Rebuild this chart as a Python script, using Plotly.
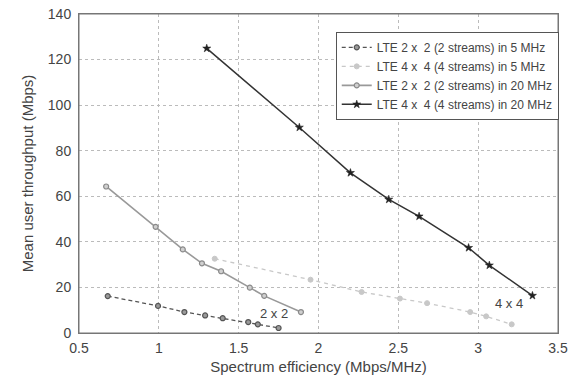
import plotly.graph_objects as go

# Data
x_2x2_5 = [0.68, 0.995, 1.16, 1.29, 1.40, 1.56, 1.62, 1.75]
y_2x2_5 = [16.2, 11.9, 9.2, 7.7, 6.5, 4.8, 3.8, 2.2]

x_4x4_5 = [1.35, 1.95, 2.27, 2.51, 2.68, 2.95, 3.05, 3.21]
y_4x4_5 = [32.6, 23.4, 18.0, 15.1, 13.1, 9.2, 7.3, 3.8]

x_2x2_20 = [0.67, 0.98, 1.15, 1.27, 1.39, 1.57, 1.66, 1.89]
y_2x2_20 = [64.3, 46.6, 36.7, 30.6, 27.1, 19.9, 16.3, 9.2]

x_4x4_20 = [1.30, 1.88, 2.20, 2.44, 2.63, 2.94, 3.07, 3.34]
y_4x4_20 = [124.9, 90.2, 70.3, 58.6, 51.2, 37.4, 29.7, 16.4]

names = [
    "LTE 2 x  2 (2 streams) in 5 MHz",
    "LTE 4 x  4 (4 streams) in 5 MHz",
    "LTE 2 x  2 (2 streams) in 20 MHz",
    "LTE 4 x  4 (4 streams) in 20 MHz",
]

annot_text = ["2 x 2", "4 x 4"]
annot_x = [1.72, 3.19]
annot_y = [8.4, 12.8]

x_ticks = [0.5, 1, 1.5, 2, 2.5, 3, 3.5]
x_ticklabels = ["0.5", "1", "1.5", "2", "2.5", "3", "3.5"]
y_ticks = [0, 20, 40, 60, 80, 100, 120, 140]

FONT = "Liberation Sans, Arial, Helvetica, sans-serif"

fig = go.Figure()
fig.add_trace(go.Scatter(
    x=x_2x2_5, y=y_2x2_5, name=names[0], mode="lines+markers",
    line=dict(color="#555555", width=1.3, dash="4px,3px"),
    marker=dict(symbol="circle", size=5, color="#9a9a9a",
                line=dict(color="#555555", width=1.2)),
))
fig.add_trace(go.Scatter(
    x=x_4x4_5, y=y_4x4_5, name=names[1], mode="lines+markers",
    line=dict(color="#c8c8c8", width=1.3, dash="4px,4px"),
    marker=dict(symbol="circle", size=5, color="#c8c8c8",
                line=dict(color="#c8c8c8", width=1)),
))
fig.add_trace(go.Scatter(
    x=x_2x2_20, y=y_2x2_20, name=names[2], mode="lines+markers",
    line=dict(color="#999999", width=1.6),
    marker=dict(symbol="circle", size=5, color="#d0d0d0",
                line=dict(color="#8a8a8a", width=1.2)),
))
fig.add_trace(go.Scatter(
    x=x_4x4_20, y=y_4x4_20, name=names[3], mode="lines+markers",
    line=dict(color="#333333", width=1.5),
    marker=dict(symbol="star", size=6, color="#222222",
                line=dict(color="#222222", width=0.6)),
))

for t, ax, ay in zip(annot_text, annot_x, annot_y):
    fig.add_annotation(x=ax, y=ay, text=t, showarrow=False,
                       font=dict(family=FONT, size=13, color="#444444"))

# Frame around the plot area
fig.add_shape(type="rect", xref="paper", yref="paper", x0=0, y0=0, x1=1, y1=1,
              line=dict(color="#777777", width=1), fillcolor="rgba(0,0,0,0)",
              layer="above")

fig.update_layout(
    width=575, height=384,
    margin=dict(l=79, r=17, t=14, b=51),
    paper_bgcolor="white", plot_bgcolor="white",
    font=dict(family=FONT, size=12, color="#444444"),
    showlegend=True,
    legend=dict(
        x=0.536, y=0.944, xanchor="left", yanchor="top",
        bgcolor="white", bordercolor="#555555", borderwidth=1,
        font=dict(family=FONT, size=12, color="#444444"),
        itemwidth=30, tracegroupgap=0,
    ),
)
fig.update_xaxes(
    range=[0.5, 3.5], tickvals=x_ticks, ticktext=x_ticklabels,
    automargin=False, ticklabeloverflow="allow",
    showgrid=True, gridcolor="#bbbbbb", griddash="dot", gridwidth=1,
    showline=True, linecolor="#777777", linewidth=1, mirror=True,
    zeroline=False, ticks="", ticklabelstandoff=2,
    tickfont=dict(size=14, color="#444444"),
    title=dict(text="Spectrum efficiency (Mbps/MHz)", font=dict(size=15, color="#444444"), standoff=6),
)
fig.update_yaxes(
    range=[0, 140], tickvals=y_ticks,
    automargin=False, ticklabeloverflow="allow",
    showgrid=True, gridcolor="#bbbbbb", griddash="dot", gridwidth=1,
    showline=True, linecolor="#777777", linewidth=1, mirror=True,
    zeroline=False, ticks="", ticklabelstandoff=4,
    tickfont=dict(size=14, color="#444444"),
    title=dict(text="Mean user throughput (Mbps)", font=dict(size=15, color="#444444"), standoff=10),
)

# Remove the page's default body margin so the figure fills the window.
fig.write_html(
    "out.html",
    config={"displayModeBar": False},
    post_script="document.body.style.margin='0';document.body.style.overflow='hidden';",
)
